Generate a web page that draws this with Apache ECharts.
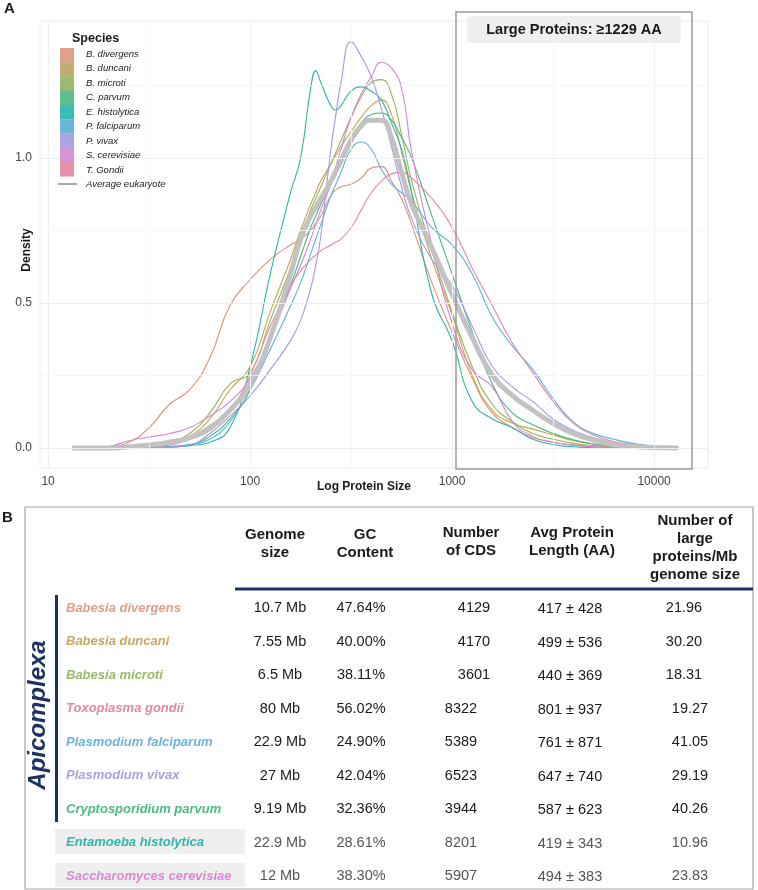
<!DOCTYPE html>
<html>
<head>
<meta charset="utf-8">
<script src="https://cdn.jsdelivr.net/npm/echarts@6/dist/echarts.min.js"></script>
<style>
html, body { margin: 0; padding: 0; background: #fff; }
#chart { width: 758px; height: 890px; }
</style>
</head>
<body>
<div id="chart"></div>
<script>
// ---- panel A data: density of log10(protein size) ----
const logSize = [1.12, 1.2, 1.3, 1.4, 1.5, 1.6, 1.7, 1.8, 1.9, 2.0,
    2.1, 2.2, 2.25, 2.3, 2.325, 2.35, 2.4, 2.425, 2.45, 2.5,
    2.55, 2.6, 2.65, 2.7, 2.75, 2.8, 2.9, 3.0, 3.1, 3.2,
    3.3, 3.4, 3.5, 3.6, 3.7, 3.8, 3.9, 4.0, 4.12];

const dDivergens = [0, 0.002, 0.005, 0.02, 0.07, 0.15, 0.2, 0.31, 0.49, 0.58,
    0.65, 0.7, 0.72, 0.75, 0.775, 0.8, 0.87, 0.89, 0.9, 0.91,
    0.93, 0.965, 0.97, 0.92, 0.86, 0.77, 0.57, 0.4, 0.24, 0.12,
    0.07, 0.035, 0.02, 0.01, 0.005, 0.002, 0, 0, 0];
const dDuncani = [0, 0, 0, 0.003, 0.008, 0.015, 0.04, 0.1, 0.2, 0.28,
    0.47, 0.65, 0.75, 0.84, 0.88, 0.92, 0.98, 1.01, 1.04, 1.09,
    1.14, 1.18, 1.2, 1.15, 1.02, 0.88, 0.65, 0.46, 0.25, 0.13,
    0.085, 0.065, 0.045, 0.025, 0.014, 0.008, 0.004, 0.001, 0];
const dMicroti = [0, 0, 0, 0.003, 0.008, 0.02, 0.05, 0.12, 0.22, 0.26,
    0.44, 0.62, 0.72, 0.82, 0.86, 0.9, 0.98, 1.02, 1.06, 1.14,
    1.21, 1.26, 1.27, 1.22, 1.08, 0.92, 0.68, 0.47, 0.28, 0.15,
    0.09, 0.05, 0.03, 0.016, 0.008, 0.004, 0.002, 0, 0];
const dParvum = [0, 0, 0, 0, 0.002, 0.005, 0.01, 0.04, 0.1, 0.2,
    0.38, 0.56, 0.66, 0.76, 0.8, 0.84, 0.91, 0.95, 0.99, 1.07,
    1.12, 1.15, 1.155, 1.13, 1.07, 1.0, 0.8, 0.6, 0.4, 0.22,
    0.12, 0.08, 0.05, 0.028, 0.014, 0.007, 0.003, 0, 0];
const dHistolytica = [0, 0, 0, 0, 0.001, 0.003, 0.008, 0.02, 0.07, 0.28,
    0.6, 0.88, 1.0, 1.24, 1.3, 1.26, 1.18, 1.165, 1.18, 1.23,
    1.245, 1.23, 1.2, 1.12, 1.03, 0.88, 0.53, 0.37, 0.16, 0.1,
    0.07, 0.03, 0.012, 0.004, 0.001, 0, 0, 0, 0];
const dFalciparum = [0, 0, 0, 0, 0.002, 0.005, 0.012, 0.03, 0.09, 0.2,
    0.34, 0.49, 0.57, 0.67, 0.72, 0.77, 0.87, 0.91, 0.95, 1.03,
    1.055, 1.03, 0.96, 0.91, 0.88, 0.85, 0.76, 0.7, 0.6, 0.45,
    0.35, 0.27, 0.17, 0.09, 0.05, 0.03, 0.015, 0.006, 0];
const dVivax = [0, 0, 0, 0, 0.001, 0.003, 0.01, 0.05, 0.11, 0.18,
    0.27, 0.37, 0.44, 0.55, 0.63, 0.73, 1.03, 1.15, 1.26, 1.4,
    1.35, 1.28, 1.17, 1.04, 0.9, 0.79, 0.65, 0.56, 0.42, 0.28,
    0.21, 0.16, 0.1, 0.06, 0.035, 0.02, 0.01, 0.004, 0];
const dCerevisiae = [0, 0, 0.005, 0.025, 0.038, 0.05, 0.07, 0.11, 0.16, 0.24,
    0.38, 0.55, 0.63, 0.72, 0.77, 0.82, 0.91, 0.97, 1.03, 1.14,
    1.22, 1.28, 1.33, 1.31, 1.24, 1.02, 0.7, 0.43, 0.27, 0.21,
    0.09, 0.04, 0.02, 0.01, 0.005, 0.002, 0, 0, 0];
const dGondii = [0, 0, 0, 0.002, 0.005, 0.01, 0.03, 0.06, 0.13, 0.25,
    0.42, 0.56, 0.61, 0.65, 0.665, 0.68, 0.7, 0.71, 0.72, 0.76,
    0.82, 0.88, 0.92, 0.945, 0.95, 0.93, 0.86, 0.76, 0.62, 0.49,
    0.36, 0.26, 0.16, 0.085, 0.045, 0.022, 0.012, 0.005, 0];
const dAverage = [0, 0, 0, 0.004, 0.01, 0.02, 0.035, 0.07, 0.13, 0.22,
    0.38, 0.6, 0.72, 0.8, 0.83, 0.86, 0.92, 0.955, 0.99, 1.06,
    1.11, 1.13, 1.13, 1.07, 0.95, 0.84, 0.69, 0.53, 0.38, 0.25,
    0.18, 0.13, 0.085, 0.05, 0.028, 0.012, 0.005, 0.002, 0];

const speciesNames = ['B. divergens', 'B. duncani', 'B. microti', 'C. parvum', 'E. histolytica',
    'P. falciparum', 'P. vivax', 'S. cerevisiae', 'T. Gondii'];
const speciesDensity = [dDivergens, dDuncani, dMicroti, dParvum, dHistolytica,
    dFalciparum, dVivax, dCerevisiae, dGondii];

const xTickValues = [1, 2, 3, 4];          // log10 of 10, 100, 1000, 10000
const xMinorValues = [1.5, 2.5, 3.5];
const yTickValues = [0, 0.5, 1.0];
const yMinorValues = [0.25, 0.75, 1.25];

// ---- panel B data ----
const tableSpecies = ['Babesia divergens', 'Babesia duncani', 'Babesia microti', 'Toxoplasma gondii',
    'Plasmodium falciparum', 'Plasmodium vivax', 'Cryptosporidium parvum',
    'Entamoeba histolytica', 'Saccharomyces cerevisiae'];
const genomeSize = ['10.7 Mb', '7.55 Mb', '6.5 Mb', '80 Mb', '22.9 Mb', '27 Mb', '9.19 Mb', '22.9 Mb', '12 Mb'];
const gcContent = ['47.64%', '40.00%', '38.11%', '56.02%', '24.90%', '42.04%', '32.36%', '28.61%', '38.30%'];
const cdsCount = [4129, 4170, 3601, 8322, 5389, 6523, 3944, 8201, 5907];
const avgLength = [417, 499, 440, 801, 761, 647, 587, 419, 494];
const sdLength = [428, 536, 369, 937, 871, 740, 623, 343, 383];
const largePerMb = ['21.96', '30.20', '18.31', '19.27', '41.05', '29.19', '40.26', '10.96', '23.83'];

// colours
const lineColors = ['#dd9277', '#c9a54f', '#97b45a', '#45b87f', '#2cb5a8',
    '#5eb0dc', '#a497e3', '#d883d8', '#e38aa6'];
const keyColors = ['#e0a08a', '#c3aa6e', '#9dba73', '#5ebf8e', '#3bbdb4',
    '#6cb5dc', '#a9a6e3', '#d893d7', '#e58fa8'];
const tableColors = ['#e0a088', '#c8a860', '#98bb68', '#e08aa8', '#6ab4dd',
    '#a9a0e0', '#4cba86', '#2fb7aa', '#d78ad4'];
const NAVY = '#1c3263';
const FONT = '"Liberation Sans", Arial, sans-serif';

function txt(text, x, y, o) {
    o = o || {};
    return {
        type: 'text', x: x, y: y, rotation: o.rotation || 0, z: 100, silent: true,
        style: {
            text: text,
            fill: o.color || '#1a1a1a',
            fontFamily: FONT,
            fontSize: o.size || 12,
            fontWeight: o.weight || 'normal',
            fontStyle: o.style || 'normal',
            textAlign: o.align || 'left',
            textVerticalAlign: 'middle',
            lineHeight: o.lineHeight || null
        }
    };
}
function box(x, y, w, h, o) {
    o = o || {};
    return {
        type: 'rect', z: o.z || 90, silent: true,
        shape: { x: x, y: y, width: w, height: h, r: o.r || 0 },
        style: { fill: o.fill || 'none', stroke: o.stroke || null, lineWidth: o.lineWidth || 1 }
    };
}

var chart = echarts.init(document.getElementById('chart'));

// density series
var series = [{
    // helper series only carrying the faint panel grid lines
    type: 'line', data: [], z: 1, silent: true,
    markLine: {
        silent: true, symbol: 'none', animation: false,
        label: { show: false },
        data: []
            .concat(xTickValues.map(v => ({ xAxis: v, lineStyle: { color: '#eeeeee', width: 1, type: 'solid' } })))
            .concat(xMinorValues.map(v => ({ xAxis: v, lineStyle: { color: '#f5f5f5', width: 0.8, type: 'solid' } })))
            .concat(yTickValues.map(v => ({ yAxis: v, lineStyle: { color: '#eeeeee', width: 1, type: 'solid' } })))
            .concat(yMinorValues.map(v => ({ yAxis: v, lineStyle: { color: '#f5f5f5', width: 0.8, type: 'solid' } })))
    }
}];
speciesDensity.forEach(function (arr, i) {
    series.push({
        name: speciesNames[i],
        type: 'line',
        smooth: true,
        showSymbol: false,
        z: 2,
        lineStyle: { color: lineColors[i], width: 1.1 },
        data: arr.map((v, j) => [logSize[j], v])
    });
});
series.push({
    name: 'Average eukaryote',
    type: 'line',
    smooth: true,
    showSymbol: false,
    z: 3,
    lineStyle: { color: '#c2c2c2', width: 5 },
    data: dAverage.map((v, j) => [logSize[j], v])
});

// graphic: titles, legend, annotation, table
var g = [];
g.push(txt('A', 4, 9, { weight: 'bold', size: 15 }));
g.push(txt('B', 2, 518, { weight: 'bold', size: 15 }));
g.push(txt('Density', 27, 250, { weight: 'bold', size: 12, rotation: Math.PI / 2, align: 'center' }));
g.push(txt('Log Protein Size', 364, 487, { weight: 'bold', size: 12, align: 'center' }));

// large proteins annotation
g.push(box(456, 12, 236, 457, { stroke: '#9a9a9a', lineWidth: 1.5 }));
g.push(box(467, 16, 214, 27, { fill: '#efefef', r: 4 }));
g.push(txt('Large Proteins: \u22651229 AA', 574, 30, { weight: 'bold', size: 14.5, align: 'center' }));

// legend
g.push(txt('Species', 72, 39, { weight: 'bold', size: 12.5 }));
speciesNames.forEach(function (n, i) {
    g.push(box(60, 48 + i * 14.25, 14, 14.5, { fill: keyColors[i] }));
    g.push(txt(n, 86, 54 + i * 14.5, { style: 'italic', size: 9.5, color: '#222' }));
});
g.push({
    type: 'line', z: 95, silent: true,
    shape: { x1: 58, y1: 184, x2: 77, y2: 184 },
    style: { stroke: '#a8a8a8', lineWidth: 2 }
});
g.push(txt('Average eukaryote', 86, 184, { style: 'italic', size: 9.5, color: '#222' }));

// table
g.push(box(25, 507, 728, 382, { stroke: '#a5a5a5', lineWidth: 1.2 }));
g.push(txt('Genome\nsize', 275, 544, { weight: 'bold', size: 15, align: 'center', lineHeight: 18 }));
g.push(txt('GC\nContent', 365, 544, { weight: 'bold', size: 15, align: 'center', lineHeight: 18 }));
g.push(txt('Number\nof CDS', 471, 542, { weight: 'bold', size: 15, align: 'center', lineHeight: 18 }));
g.push(txt('Avg Protein\nLength (AA)', 572, 542, { weight: 'bold', size: 15, align: 'center', lineHeight: 18 }));
g.push(txt('Number of\nlarge\nproteins/Mb\ngenome size', 695, 548, { weight: 'bold', size: 15, align: 'center', lineHeight: 18 }));
g.push(box(235, 587.5, 518, 3, { fill: NAVY }));
g.push(box(55, 595, 3, 227, { fill: NAVY }));
g.push(txt('Apicomplexa', 38, 715, { weight: 'bold', style: 'italic', size: 24, color: NAVY, rotation: Math.PI / 2, align: 'center' }));
g.push(box(55, 829, 190, 25, { fill: '#efefef', z: 80 }));
g.push(box(55, 863, 190, 24, { fill: '#efefef', z: 80 }));

tableSpecies.forEach(function (n, i) {
    var y = 608 + i * 33.5;
    var valColor = i >= 7 ? '#555' : '#1a1a1a';
    var shifted = i >= 3;
    g.push(txt(n, 66, y, { weight: 'bold', style: 'italic', size: 13, color: tableColors[i] }));
    g.push(txt(genomeSize[i], 280, y, { size: 14.5, align: 'center', color: valColor }));
    g.push(txt(gcContent[i], 361, y, { size: 14.5, align: 'center', color: valColor }));
    g.push(txt(String(cdsCount[i]), shifted ? 461 : 474, y, { size: 14.5, align: 'center', color: valColor }));
    g.push(txt(avgLength[i] + ' \u00b1 ' + sdLength[i], 570, y + 1, { size: 14.5, align: 'center', color: valColor }));
    g.push(txt(largePerMb[i], shifted ? 690 : 684, y, { size: 14.5, align: 'center', color: valColor }));
});

var option = {
    animation: false,
    backgroundColor: '#ffffff',
    textStyle: { fontFamily: FONT },
    grid: {
        left: 40, top: 21, width: 668, height: 447,
        show: true, borderColor: '#ebebeb', borderWidth: 1, backgroundColor: 'transparent'
    },
    xAxis: {
        type: 'value',
        min: 0.96, max: 4.267,
        axisLine: { show: false },
        axisTick: { show: false },
        splitLine: { show: false },
        axisLabel: {
            customValues: xTickValues,
            margin: 8,
            color: '#444', fontSize: 12, fontFamily: FONT,
            formatter: v => String(Math.round(Math.pow(10, v)))
        }
    },
    yAxis: {
        type: 'value',
        min: -0.069, max: 1.472,
        axisLine: { show: false },
        axisTick: { show: false },
        splitLine: { show: false },
        axisLabel: {
            customValues: yTickValues,
            margin: 8,
            color: '#444', fontSize: 12, fontFamily: FONT,
            formatter: v => v.toFixed(1)
        }
    },
    series: series,
    graphic: { elements: g }
};

chart.setOption(option);
</script>
</body>
</html>
